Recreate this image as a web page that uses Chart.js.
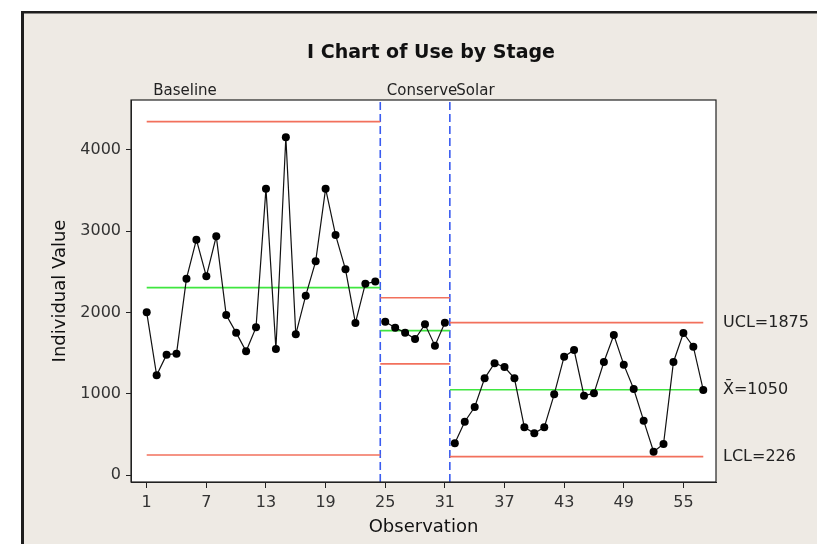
<!DOCTYPE html>
<html>
<head>
<meta charset="utf-8">
<title>I Chart of Use by Stage</title>
<script src="https://cdn.jsdelivr.net/npm/chart.js@4.4.1/dist/chart.umd.min.js"></script>
<style>
  html, body { margin: 0; padding: 0; background: #ffffff; }
  #wrap { position: absolute; left: 0; top: 0; width: 817px; height: 544px; }
</style>
</head>
<body>
<div id="wrap"><canvas id="chart" width="817" height="544"></canvas></div>
<script>
// Individual observations of use, one array per stage
const baselineUse = [2002, 1227, 1481, 1493, 2416, 2896, 2445, 2937, 1969, 1752, 1522, 1817,
                     3524, 1551, 4156, 1731, 2207, 2630, 3524, 2954, 2531, 1871, 2355, 2380];
const conserveUse = [1887, 1813, 1752, 1674, 1854, 1592, 1875];
const solarUse = [390, 656, 837, 1190, 1375, 1329, 1190, 587, 513, 587, 993, 1456, 1538,
                  976, 1005, 1391, 1723, 1358, 1058, 669, 287, 382, 1391, 1748, 1579, 1046];

// Stage names and control limits per stage
const stageNames = ['Baseline', 'Conserve', 'Solar'];
const stageMean = [2306, 1777, 1050];
const stageUCL = [4349, 2182, 1875];
const stageLCL = [246, 1368, 226];

// Axis ticks
const xTickValues = [1, 7, 13, 19, 25, 31, 37, 43, 49, 55];
const yTickValues = [0, 1000, 2000, 3000, 4000];

const stages = [baselineUse, conserveUse, solarUse];

const FONT = "'DejaVu Sans', Verdana, sans-serif";
const RED = '#f2705c';
const GREEN = '#3fe63f';
const BLUE = '#3a5cf0';

// First and last observation number of every stage
const stageRanges = [];
let obs = 1;
stages.forEach(vals => {
  stageRanges.push({ first: obs, last: obs + vals.length - 1 });
  obs += vals.length;
});

const datasets = [];

// Observations, one connected segment per stage
stages.forEach((vals, s) => {
  datasets.push({
    data: vals.map((v, i) => ({ x: stageRanges[s].first + i, y: v })),
    showLine: true,
    borderColor: '#111',
    borderWidth: 1.2,
    pointRadius: 4,
    pointBackgroundColor: '#000',
    pointBorderColor: '#000',
    pointBorderWidth: 0,
    order: 0
  });
});

// Centre line and control limits, spanning each stage
stageRanges.forEach((r, s) => {
  const x0 = s === 0 ? r.first : r.first - 0.5;
  const x1 = s === stageRanges.length - 1 ? r.last : r.last + 0.5;
  [[stageUCL[s], RED], [stageMean[s], GREEN], [stageLCL[s], RED]].forEach(([v, c]) => {
    datasets.push({
      data: [{ x: x0, y: v }, { x: x1, y: v }],
      showLine: true,
      borderColor: c,
      borderWidth: 1.6,
      pointRadius: 0,
      order: 1
    });
  });
});

const Y_MIN = -86, Y_MAX = 4615;

// Dashed separators between stages
stageRanges.slice(1).forEach(r => {
  datasets.push({
    data: [{ x: r.first - 0.5, y: Y_MIN }, { x: r.first - 0.5, y: Y_MAX }],
    showLine: true,
    borderColor: BLUE,
    borderWidth: 1.6,
    borderDash: [8, 4],
    pointRadius: 0,
    order: 2
  });
});

const decorations = {
  id: 'decorations',
  beforeDraw(chart) {
    const ctx = chart.ctx;
    const a = chart.chartArea;
    ctx.save();
    ctx.fillStyle = '#ffffff';
    ctx.fillRect(0, 0, chart.width, chart.height);
    ctx.fillStyle = '#eeeae4';
    ctx.fillRect(21, 11, chart.width - 21, chart.height - 11);
    ctx.fillStyle = '#1e1e1e';
    ctx.fillRect(21, 11, 3, chart.height - 11);
    ctx.fillRect(21, 11, chart.width - 21, 2.5);
    ctx.fillStyle = '#ffffff';
    ctx.fillRect(a.left, a.top, a.right - a.left, a.bottom - a.top);
    ctx.restore();
  },
  afterDraw(chart) {
    const ctx = chart.ctx;
    const a = chart.chartArea;
    const xs = chart.scales.x, ys = chart.scales.y;
    ctx.save();
    // plot frame
    ctx.strokeStyle = '#222';
    ctx.lineWidth = 1.2;
    ctx.strokeRect(a.left, a.top, a.right - a.left, a.bottom - a.top);

    // title
    ctx.fillStyle = '#111';
    ctx.font = `bold 19px ${FONT}`;
    ctx.textAlign = 'center';
    ctx.textBaseline = 'alphabetic';
    ctx.fillText('I Chart of Use by Stage', 431, 58);

    // stage names above the plot
    ctx.font = `15px ${FONT}`;
    ctx.textAlign = 'left';
    ctx.fillStyle = '#222';
    stageRanges.forEach((r, s) => {
      const px = s === 0 ? xs.getPixelForValue(r.first) + 6.5 : xs.getPixelForValue(r.first - 0.5) + 6.5;
      ctx.fillText(stageNames[s], px, 95);
    });

    // last-stage limit labels
    const s = stageRanges.length - 1;
    ctx.font = `16px ${FONT}`;
    ctx.textBaseline = 'middle';
    ctx.fillStyle = '#222';
    const lx = a.right + 7;
    ctx.fillText('UCL=' + stageUCL[s], lx, ys.getPixelForValue(stageUCL[s]));
    ctx.fillText('X\u0304=' + stageMean[s], lx, ys.getPixelForValue(stageMean[s]));
    ctx.fillText('LCL=' + stageLCL[s], lx, ys.getPixelForValue(stageLCL[s]));

    // axis titles
    ctx.font = `18px ${FONT}`;
    ctx.fillStyle = '#111';
    ctx.textAlign = 'center';
    ctx.textBaseline = 'alphabetic';
    ctx.fillText('Observation', (a.left + a.right) / 2, 532);
    ctx.translate(65, (a.top + a.bottom) / 2);
    ctx.rotate(-Math.PI / 2);
    ctx.fillText('Individual Value', 0, 0);
    ctx.restore();
  }
};

new Chart(document.getElementById('chart'), {
  type: 'scatter',
  data: { datasets },
  plugins: [decorations],
  options: {
    responsive: false,
    animation: false,
    events: [],
    layout: { padding: { left: 0, top: 100, right: 101, bottom: 0 } },
    plugins: { legend: { display: false }, tooltip: { enabled: false }, title: { display: false } },
    scales: {
      x: {
        type: 'linear',
        min: -0.58,
        max: 58.28,
        afterBuildTicks: sc => { sc.ticks = xTickValues.map(v => ({ value: v })); },
        afterFit: sc => { sc.height = 62; },
        grid: { drawOnChartArea: false, drawTicks: true, tickLength: 6, color: '#222' },
        border: { display: true, color: '#222' },
        ticks: { color: '#333', font: { family: FONT, size: 16 }, padding: 5, maxRotation: 0, autoSkip: false,
                 callback: v => String(v) }
      },
      y: {
        type: 'linear',
        min: Y_MIN,
        max: Y_MAX,
        afterBuildTicks: sc => { sc.ticks = yTickValues.map(v => ({ value: v })); },
        afterFit: sc => { sc.width = 131; },
        grid: { drawOnChartArea: false, drawTicks: true, tickLength: 5, color: '#222' },
        border: { display: true, color: '#222' },
        ticks: { color: '#333', font: { family: FONT, size: 16 }, padding: 5, callback: v => String(v) }
      }
    }
  }
});
</script>
</body>
</html>
